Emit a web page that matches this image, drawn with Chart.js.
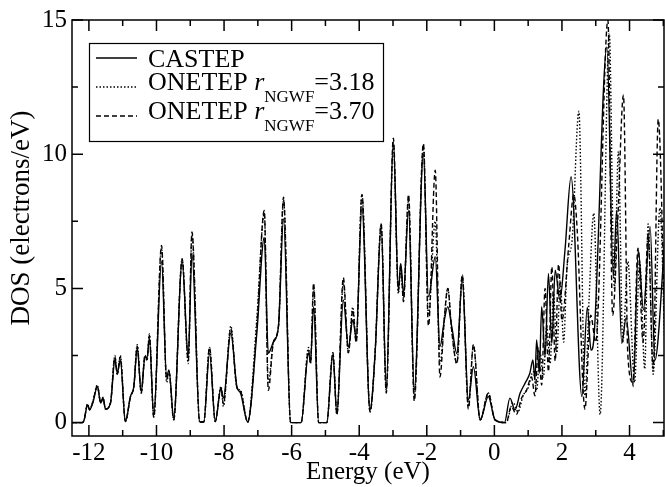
<!DOCTYPE html>
<html>
<head>
<meta charset="utf-8">
<script src="https://cdn.jsdelivr.net/npm/chart.js@4.4.1/dist/chart.umd.min.js"></script>
<style>
  html, body { margin: 0; padding: 0; background: #fff; }
  #wrap { width: 665px; height: 487px; position: relative; }
</style>
</head>
<body>
<div id="wrap"><canvas id="dosChart"></canvas></div>
<script>
// [energy (eV), DOS (electrons/eV)]
const castep = [
  [-12.5,0],[-12.2,0],[-12.14,0.1],[-12.04,0.66],[-11.98,0.47],[-11.88,0.75],[-11.75,1.34],[-11.65,0.73],
  [-11.58,0.92],[-11.51,0.51],[-11.36,0.73],[-11.23,2.33],[-11.16,1.85],[-11.07,2.33],[-10.92,0.04],
  [-10.77,0.97],[-10.67,1.34],[-10.57,2.77],[-10.45,1.15],[-10.34,2.46],[-10.28,2.4],[-10.21,3.14],
  [-10.08,0.29],[-9.85,6.0],[-9.7,1.71],[-9.63,1.96],[-9.49,0.17],[-9.24,5.99],[-9.06,2.46],[-8.95,6.3],
  [-8.72,0.02],[-8.6,0.02],[-8.43,2.58],[-8.26,0.04],[-8.09,1.28],[-8.02,0.91],[-7.8,3.33],[-7.62,1.34],
  [-7.51,1.09],[-7.3,0.02],[-7.03,3.33],[-6.81,6.9],[-6.69,2.58],[-6.54,3.0],[-6.39,3.57],[-6.24,7.6],
  [-6.03,0],[-5.72,0],[-5.5,2.58],[-5.44,2.3],[-5.35,4.32],[-5.2,0],[-4.96,0],[-4.78,2.52],[-4.66,0.35],
  [-4.47,4.57],[-4.32,2.83],[-4.19,3.82],[-4.09,3.2],[-3.92,8.04],[-3.68,0.47],[-3.53,2.58],[-3.35,7.3],
  [-3.2,1.34],[-2.99,10.52],[-2.84,4.94],[-2.77,5.93],[-2.69,4.82],[-2.54,7.9],[-2.37,1.22],[-2.1,10.0],
  [-1.95,4.69],[-1.75,6.18],[-1.61,2.83],[-1.48,3.82],[-1.38,4.32],[-1.26,3.57],[-1.11,2.58],[-0.95,5.31],
  [-0.77,0.84],[-0.62,2.08],[-0.42,0.1],[-0.18,0.97],[0.02,0.1],[0.3,0],[0.46,0.91],[0.61,0.47],
  [0.76,1.09],[0.91,1.47],[1.05,1.84],[1.14,2.33],[1.2,1.59],[1.25,3.08],[1.33,1.84],[1.4,4.32],
  [1.5,2.46],[1.6,5.56],[1.7,2.95],[1.8,5.68],[1.94,4.57],[2.09,6.43],[2.27,9.16],[2.59,0.97],[2.75,4.3],
  [2.86,2.7],[2.95,3.2],[3.33,14.0],[3.52,5.43],[3.62,7.9],[3.77,2.95],[3.9,3.9],[4.11,1.34],[4.26,6.43],
  [4.41,4.2],[4.61,7.3],[4.75,2.33],[5.05,6.9]
];
const onetep318 = [
  [-12.5,0],[-12.2,0],[-12.14,0.1],[-12.04,0.7],[-11.98,0.5],[-11.88,0.8],[-11.75,1.4],[-11.65,0.75],
  [-11.58,0.95],[-11.51,0.5],[-11.36,0.75],[-11.23,2.5],[-11.16,1.8],[-11.07,2.5],[-10.92,0.04],
  [-10.77,0.97],[-10.67,1.34],[-10.57,2.9],[-10.45,1.1],[-10.34,2.5],[-10.28,2.3],[-10.21,3.3],
  [-10.08,0.2],[-9.85,6.5],[-9.7,1.5],[-9.63,1.9],[-9.49,0.1],[-9.24,6.1],[-9.06,2.2],[-8.95,7.0],
  [-8.72,0.02],[-8.6,0.02],[-8.43,2.8],[-8.26,0.04],[-8.09,1.35],[-8.02,0.6],[-7.8,3.6],[-7.62,1.3],
  [-7.51,1.2],[-7.3,0.02],[-7.03,3.9],[-6.81,7.8],[-6.69,1.5],[-6.54,3.0],[-6.39,3.6],[-6.24,8.3],
  [-6.03,0],[-5.72,0],[-5.5,2.8],[-5.44,2.2],[-5.35,5.0],[-5.2,0],[-4.96,0],[-4.78,2.6],[-4.66,0.3],
  [-4.47,5.2],[-4.32,2.6],[-4.19,4.3],[-4.09,3.0],[-3.92,8.5],[-3.68,0.4],[-3.53,2.6],[-3.35,7.4],
  [-3.2,1.2],[-2.99,10.3],[-2.84,4.8],[-2.77,5.8],[-2.69,4.6],[-2.54,8.3],[-2.37,1.0],[-2.1,10.3],
  [-1.95,4.0],[-1.75,7.5],[-1.61,2.2],[-1.48,3.9],[-1.38,5.0],[-1.26,3.4],[-1.11,2.2],[-0.95,5.5],
  [-0.77,0.6],[-0.62,2.9],[-0.42,0.1],[-0.18,1.1],[0.02,0.1],[0.35,0],[0.55,0.75],[0.7,0.4],
  [0.85,1.0],[1.0,1.3],[1.15,1.9],[1.25,1.2],[1.35,2.6],[1.45,1.7],[1.55,3.6],[1.65,2.2],[1.75,4.8],
  [1.85,2.6],[1.95,5.3],[2.05,3.0],[2.15,5.8],[2.3,6.8],[2.5,11.6],[2.68,1.0],[2.8,4.5],[2.94,7.8],
  [3.13,0.3],[3.4,14.5],[3.55,5.0],[3.67,10.1],[3.8,3.0],[3.95,6.0],[4.15,1.5],[4.3,6.0],[4.45,2.0],
  [4.55,7.4],[4.7,1.8],[4.9,8.0],[5.05,2.5]
];
const onetep370 = [
  [-12.5,0],[-12.2,0],[-12.14,0.1],[-12.04,0.68],[-11.98,0.48],[-11.88,0.78],[-11.75,1.38],[-11.65,0.74],
  [-11.58,0.94],[-11.51,0.5],[-11.36,0.74],[-11.23,2.45],[-11.16,1.8],[-11.07,2.45],[-10.92,0.04],
  [-10.77,0.97],[-10.67,1.34],[-10.57,2.85],[-10.45,1.1],[-10.34,2.5],[-10.28,2.35],[-10.21,3.25],
  [-10.08,0.2],[-9.85,6.6],[-9.7,1.6],[-9.63,1.9],[-9.49,0.1],[-9.24,6.1],[-9.06,2.3],[-8.95,7.1],
  [-8.72,0.02],[-8.6,0.02],[-8.43,2.8],[-8.26,0.04],[-8.09,1.3],[-8.02,0.7],[-7.8,3.5],[-7.62,1.3],
  [-7.51,1.15],[-7.3,0.02],[-7.03,3.6],[-6.81,7.9],[-6.69,1.2],[-6.54,3.0],[-6.39,3.6],[-6.24,8.4],
  [-6.03,0],[-5.72,0],[-5.5,2.7],[-5.44,2.2],[-5.35,5.2],[-5.2,0],[-4.96,0],[-4.78,2.6],[-4.66,0.3],
  [-4.47,5.4],[-4.32,2.6],[-4.19,4.2],[-4.09,3.0],[-3.92,8.5],[-3.68,0.4],[-3.53,2.6],[-3.35,7.4],
  [-3.2,1.1],[-2.99,10.6],[-2.84,4.9],[-2.77,5.9],[-2.69,4.5],[-2.54,8.5],[-2.37,0.8],[-2.1,10.4],
  [-1.95,3.6],[-1.75,9.4],[-1.61,1.7],[-1.48,3.9],[-1.38,5.0],[-1.26,3.4],[-1.11,2.2],[-0.95,5.5],
  [-0.77,0.5],[-0.62,2.9],[-0.42,0.1],[-0.18,1.1],[0.02,0.1],[0.35,0],[0.5,0.6],[0.65,0.3],
  [0.8,0.9],[0.95,1.2],[1.1,1.7],[1.2,1.0],[1.3,2.8],[1.4,1.4],[1.5,5.0],[1.6,1.9],[1.7,5.8],
  [1.8,2.3],[1.9,5.9],[2.0,3.8],[2.2,6.6],[2.35,8.5],[2.45,7.2],[2.68,0.5],[2.85,4.0],[3.0,3.0],
  [3.36,15.0],[3.5,4.0],[3.65,7.5],[3.82,12.2],[3.95,2.5],[4.1,1.5],[4.25,6.5],[4.4,3.0],[4.55,7.0],
  [4.7,2.0],[4.85,11.3],[5.05,3.0]
];

const xMajorTicks = [-12, -10, -8, -6, -4, -2, 0, 2, 4];
const xMinorTicks = [-11, -9, -7, -5, -3, -1, 1, 3, 5];
const yMajorTicks = [0, 5, 10, 15];
const yMinorTicks = [2.5, 7.5, 12.5];

const SERIF = '"Liberation Serif", "Times New Roman", serif';

const toXY = arr => arr.map(p => ({ x: p[0], y: p[1] }));

// frame on all four sides with inward ticks, plus the rotated y title
const frameTicks = {
  id: 'frameTicks',
  afterDraw(chart) {
    const { ctx, chartArea: a, scales: { x, y } } = chart;
    ctx.save();
    ctx.strokeStyle = '#000';
    ctx.lineWidth = 1.5;
    ctx.strokeRect(a.left, a.top, a.right - a.left, a.bottom - a.top);
    ctx.beginPath();
    const tx = (v, len) => {
      const px = x.getPixelForValue(v);
      ctx.moveTo(px, a.bottom); ctx.lineTo(px, a.bottom - len);
      ctx.moveTo(px, a.top); ctx.lineTo(px, a.top + len);
    };
    const ty = (v, len) => {
      const py = y.getPixelForValue(v);
      ctx.moveTo(a.left, py); ctx.lineTo(a.left + len, py);
      ctx.moveTo(a.right, py); ctx.lineTo(a.right - len, py);
    };
    xMajorTicks.forEach(v => tx(v, 11));
    xMinorTicks.forEach(v => tx(v, 6));
    yMajorTicks.forEach(v => ty(v, 11));
    yMinorTicks.forEach(v => ty(v, 6));
    ctx.stroke();

    ctx.translate(22, a.top + 198);
    ctx.rotate(-Math.PI / 2);
    ctx.fillStyle = '#000';
    ctx.font = '27px ' + SERIF;
    ctx.textAlign = 'center';
    ctx.textBaseline = 'middle';
    ctx.fillText('DOS (electrons/eV)', 0, 0);
    ctx.restore();
  }
};

// legend box with italic r and subscript NGWF
const dosLegend = {
  id: 'dosLegend',
  afterDraw(chart) {
    const { ctx, chartArea: a } = chart;
    const L = a.left + 17, T = a.top + 23;
    ctx.save();
    ctx.fillStyle = '#fff';
    ctx.fillRect(L, T, 294, 98);
    ctx.strokeStyle = '#000';
    ctx.lineWidth = 1.2;
    ctx.strokeRect(L + 0.5, T + 0.5, 294, 98);

    const rows = [
      { dash: [], y: 15, base: 24, label: 'CASTEP' },
      { dash: [1.5, 2], y: 44, base: 47, label: 'ONETEP ', r: '=3.18' },
      { dash: [5, 3], y: 73, base: 75.5, label: 'ONETEP ', r: '=3.70' }
    ];
    rows.forEach(row => {
      ctx.setLineDash(row.dash);
      ctx.lineWidth = 1.3;
      ctx.beginPath();
      ctx.moveTo(L + 7, T + row.y);
      ctx.lineTo(L + 48, T + row.y);
      ctx.stroke();
      ctx.setLineDash([]);
      ctx.fillStyle = '#000';
      ctx.textBaseline = 'alphabetic';
      let cx = L + 59;
      const by = T + row.base;
      ctx.font = '26px ' + SERIF;
      ctx.fillText(row.label, cx, by);
      if (row.r) {
        cx += ctx.measureText(row.label).width;
        ctx.font = 'italic 26px ' + SERIF;
        ctx.fillText('r', cx, by);
        cx += ctx.measureText('r').width;
        ctx.font = '17px ' + SERIF;
        ctx.fillText('NGWF', cx, by + 12);
        cx += ctx.measureText('NGWF').width;
        ctx.font = '26px ' + SERIF;
        ctx.fillText(row.r, cx, by);
      }
    });
    ctx.restore();
  }
};

const lineStyle = {
  borderColor: '#000',
  pointRadius: 0,
  fill: false,
  borderWidth: 1.4,
  cubicInterpolationMode: 'monotone'
};

const config = {
  type: 'line',
  data: {
    datasets: [
      { ...lineStyle, label: 'CASTEP', data: toXY(castep) },
      { ...lineStyle, label: 'ONETEP rNGWF=3.18', data: toXY(onetep318), borderDash: [1.5, 2] },
      { ...lineStyle, label: 'ONETEP rNGWF=3.70', data: toXY(onetep370), borderDash: [5, 3] }
    ]
  },
  options: {
    responsive: true,
    maintainAspectRatio: false,
    animation: false,
    devicePixelRatio: 1,
    layout: { padding: { top: 20, right: 1, left: 0, bottom: 0 } },
    plugins: {
      legend: { display: false },
      tooltip: { enabled: false }
    },
    scales: {
      x: {
        type: 'linear',
        min: -12.5,
        max: 5.02,
        afterFit: s => { s.height = 51; },
        afterBuildTicks: s => { s.ticks = xMajorTicks.map(v => ({ value: v })); },
        grid: { display: false, drawTicks: false },
        border: { display: false },
        ticks: {
          color: '#000',
          padding: 2,
          maxRotation: 0,
          font: { family: SERIF, size: 25 },
          callback: v => String(v)
        },
        title: {
          display: true,
          text: 'Energy (eV)',
          color: '#000',
          font: { family: SERIF, size: 25 },
          padding: { top: 0, bottom: 0 }
        }
      },
      y: {
        type: 'linear',
        min: -0.5,
        max: 15,
        afterFit: s => { s.width = 72; },
        afterBuildTicks: s => { s.ticks = yMajorTicks.map(v => ({ value: v })); },
        grid: { display: false, drawTicks: false },
        border: { display: false },
        ticks: {
          color: '#000',
          padding: 5,
          font: { family: SERIF, size: 25 },
          callback: v => String(v)
        },
        title: { display: false }
      }
    }
  },
  plugins: [frameTicks, dosLegend]
};

const dosChart = new Chart(document.getElementById('dosChart'), config);
</script>
</body>
</html>
